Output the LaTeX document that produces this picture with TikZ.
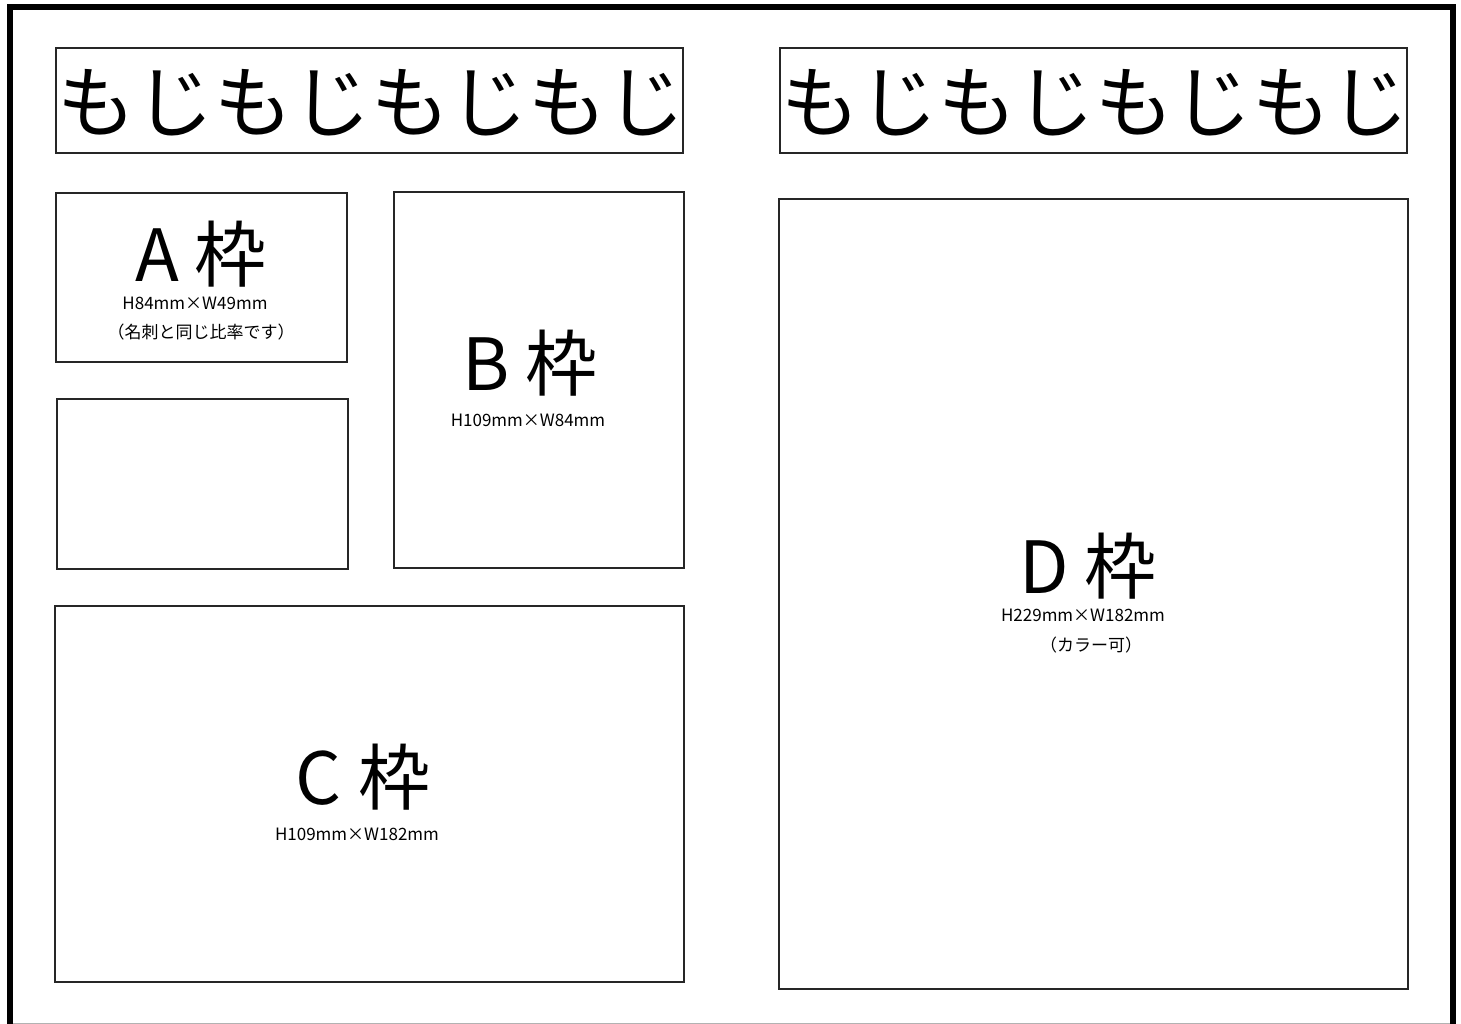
\documentclass[tikz,border=0pt]{standalone}
\usepackage{fontspec}
\newfontfamily\jp{Noto Sans CJK JP}
\begin{document}
\begin{tikzpicture}[x=1pt,y=-1pt,
  box/.style={draw=black!85, line width=2pt, rectangle, inner sep=0pt},
  titletext/.style={font=\jp\fontsize{78.5}{78.5}\selectfont, inner sep=0pt},
  bigtext/.style={font=\jp\fontsize{72}{72}\selectfont, inner sep=0pt},
  smalltext/.style={font=\jp\fontsize{17}{17}\selectfont, inner sep=0pt}]
\useasboundingbox (0,0) rectangle (1461,1024);
\clip (0,0) rectangle (1461,1024);
\fill[white] (0,0) rectangle (1461,1024);
\draw[line width=6pt] (10,7) rectangle (1453,1027);
\draw[black!30, line width=1pt] (13,1023.5) -- (1450,1023.5);
% title boxes
\node[box, minimum width=627pt, minimum height=105pt] (t1) at (369.5,100.5) {};
\node[box, minimum width=627pt, minimum height=105pt] (t2) at (1093.5,100.5) {};
\node[titletext] (t1txt) at (371,103) {もじもじもじもじ};
\node[titletext] (t2txt) at (1095,103) {もじもじもじもじ};
% frames
\node[box, minimum width=291pt, minimum height=169pt] (a) at (201.5,277.5) {};
\node[box, minimum width=291pt, minimum height=170pt] (e) at (202.5,484) {};
\node[box, minimum width=290pt, minimum height=376pt] (b) at (539,380) {};
\node[box, minimum width=629pt, minimum height=376pt] (c) at (369.5,794) {};
\node[box, minimum width=629pt, minimum height=790pt] (d) at (1093.5,594) {};
% labels A
\node[bigtext] (alab) at (201,254) {A 枠};
\node[smalltext] (asize) at (195,303) {H84mm×W49mm};
\node[smalltext] (anote) at (201,332) {（名刺と同じ比率です）};
% B
\node[bigtext] (blab) at (530,363) {B 枠};
\node[smalltext] (bsize) at (528,420) {H109mm×W84mm};
% C
\node[bigtext] (clab) at (363,777) {C 枠};
\node[smalltext] (csize) at (357,834) {H109mm×W182mm};
% D
\node[bigtext] (dlab) at (1088,566) {D 枠};
\node[smalltext] (dsize) at (1083,615) {H229mm×W182mm};
\node[smalltext] (dnote) at (1091,645) {（カラー可）};
\end{tikzpicture}
\end{document}
